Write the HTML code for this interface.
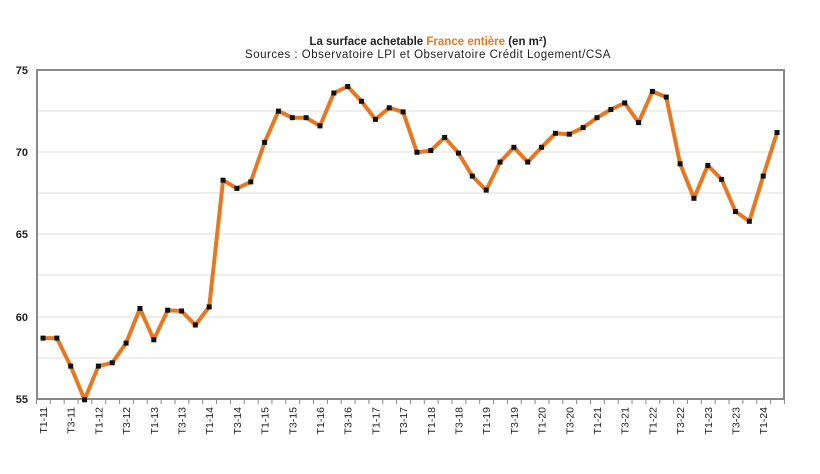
<!DOCTYPE html>
<html><head><meta charset="utf-8"><style>body{margin:0;background:#fff}svg{display:block}</style></head><body>
<svg width="820" height="474" xmlns="http://www.w3.org/2000/svg" font-family="Liberation Sans, sans-serif">
<defs><marker id="m" markerUnits="userSpaceOnUse" markerWidth="6" markerHeight="6" refX="3" refY="3"><rect x="0.5" y="0.5" width="5" height="5" fill="#111"/></marker></defs>
<text x="428" y="45" text-anchor="middle" font-size="11.5" font-weight="bold" fill="#222">La surface achetable <tspan fill="#E87722">France entière</tspan> (en m²)</text>
<text x="428" y="58" text-anchor="middle" font-size="11.5" fill="#222" letter-spacing="0.5">Sources : Observatoire LPI et Observatoire Crédit Logement/CSA</text>
<g stroke="#ddd" stroke-width="1">
<line x1="37" x2="784" y1="111" y2="111"/><line x1="37" x2="784" y1="152" y2="152"/><line x1="37" x2="784" y1="193" y2="193"/><line x1="37" x2="784" y1="234" y2="234"/><line x1="37" x2="784" y1="275" y2="275"/><line x1="37" x2="784" y1="317" y2="317"/><line x1="37" x2="784" y1="358" y2="358"/>
</g>
<rect x="37" y="70" width="747" height="329" fill="none" stroke="#888" stroke-width="2"/>
<line x1="36" x2="786" y1="401.5" y2="401.5" stroke="#888" stroke-width="5" stroke-dasharray="1 12.85"/>
<g font-size="11" font-weight="bold" fill="#222" text-anchor="end">
<text x="28" y="74">75</text><text x="28" y="156">70</text><text x="28" y="238">65</text><text x="28" y="321">60</text><text x="28" y="403">55</text>
</g>
<polyline fill="none" stroke="#E87722" stroke-width="4" stroke-linejoin="round" marker-start="url(#m)" marker-mid="url(#m)" marker-end="url(#m)" points="43,338.1 56.85,338.1 70.7,366.1 84.55,399.8 98.4,366.1 112.25,362.8 126.1,343.1 139.95,308.5 153.8,339.8 167.65,310.2 181.5,311 195.35,325 209.2,306.9 223.05,180.2 236.9,188.4 250.75,181.9 264.6,142.4 278.45,111.1 292.3,117.7 306.15,117.7 320,125.9 333.85,93 347.7,86.5 361.55,101.3 375.4,119.4 389.25,107.8 403.1,111.9 416.95,152.3 430.8,150.6 444.65,137.4 458.5,153.1 472.35,176.1 486.2,190.1 500.05,162.1 513.9,147.3 527.75,162.1 541.6,147.3 555.45,133.3 569.3,134.2 583.15,127.6 597,117.7 610.85,109.5 624.7,102.9 638.55,122.6 652.4,91.4 666.25,97.1 680.1,163.8 693.95,198.3 707.8,165.4 721.65,179.4 735.5,211.5 749.35,221.3 763.2,176.1 777.05,132.5"/>
<g font-size="10.5" fill="#222" text-anchor="end">
<text transform="translate(47,407) rotate(-90)">T1-11</text>
<text transform="translate(74.7,407) rotate(-90)">T3-11</text>
<text transform="translate(102.4,407) rotate(-90)">T1-12</text>
<text transform="translate(130.1,407) rotate(-90)">T3-12</text>
<text transform="translate(157.8,407) rotate(-90)">T1-13</text>
<text transform="translate(185.5,407) rotate(-90)">T3-13</text>
<text transform="translate(213.2,407) rotate(-90)">T1-14</text>
<text transform="translate(240.9,407) rotate(-90)">T3-14</text>
<text transform="translate(268.6,407) rotate(-90)">T1-15</text>
<text transform="translate(296.3,407) rotate(-90)">T3-15</text>
<text transform="translate(324,407) rotate(-90)">T1-16</text>
<text transform="translate(351.7,407) rotate(-90)">T3-16</text>
<text transform="translate(379.4,407) rotate(-90)">T1-17</text>
<text transform="translate(407.1,407) rotate(-90)">T3-17</text>
<text transform="translate(434.8,407) rotate(-90)">T1-18</text>
<text transform="translate(462.5,407) rotate(-90)">T3-18</text>
<text transform="translate(490.2,407) rotate(-90)">T1-19</text>
<text transform="translate(517.9,407) rotate(-90)">T3-19</text>
<text transform="translate(545.6,407) rotate(-90)">T1-20</text>
<text transform="translate(573.3,407) rotate(-90)">T3-20</text>
<text transform="translate(601,407) rotate(-90)">T1-21</text>
<text transform="translate(628.7,407) rotate(-90)">T3-21</text>
<text transform="translate(656.4,407) rotate(-90)">T1-22</text>
<text transform="translate(684.1,407) rotate(-90)">T3-22</text>
<text transform="translate(711.8,407) rotate(-90)">T1-23</text>
<text transform="translate(739.5,407) rotate(-90)">T3-23</text>
<text transform="translate(767.2,407) rotate(-90)">T1-24</text>
</g>
</svg>
</body></html>
